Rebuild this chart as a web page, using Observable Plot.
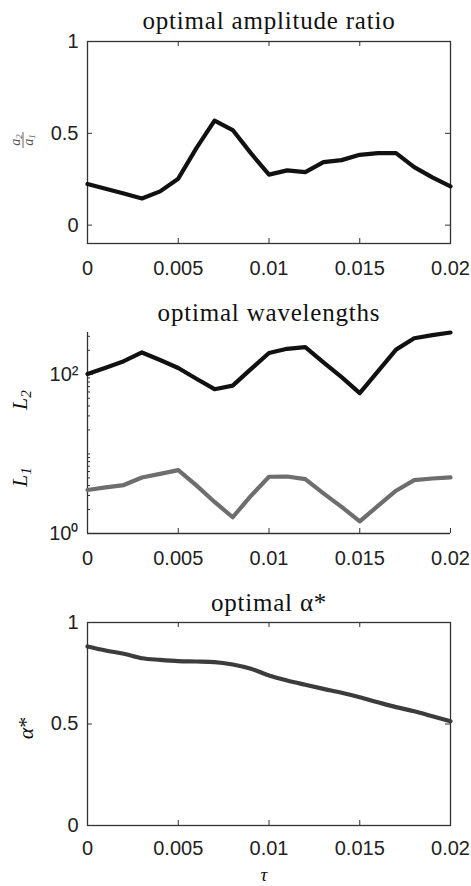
<!DOCTYPE html>
<html><head><meta charset="utf-8">
<script src="https://cdn.jsdelivr.net/npm/d3@7"></script>
<script src="https://cdn.jsdelivr.net/npm/@observablehq/plot@0.6"></script>
<style>
body{margin:0;background:#fff;}
#wrap{position:relative;width:471px;height:886px;overflow:hidden;}
#wrap svg{position:absolute;left:0;}
</style></head><body><div id="wrap"></div>
<script>
// ---- data ----
const tau = [0, 0.001, 0.002, 0.003, 0.004, 0.005, 0.006, 0.007, 0.008, 0.009, 0.010,
             0.011, 0.012, 0.013, 0.014, 0.015, 0.016, 0.017, 0.018, 0.019, 0.020];
const ratio = [0.224, 0.198, 0.172, 0.145, 0.184, 0.253, 0.419, 0.569, 0.518, 0.392, 0.275,
               0.298, 0.289, 0.343, 0.354, 0.383, 0.392, 0.392, 0.316, 0.260, 0.211];
const L2 = [101, 121, 146, 188, 151, 120, 88, 65, 72, 116, 185,
            209, 219, 141, 92, 58, 109, 204, 284, 310, 335];
const L1 = [3.52, 3.79, 4.06, 5.06, 5.62, 6.26, 4.02, 2.49, 1.60, 2.96, 5.16,
            5.20, 4.83, 3.19, 2.16, 1.42, 2.22, 3.45, 4.69, 4.91, 5.06];
const alpha = [0.882, 0.862, 0.846, 0.824, 0.816, 0.810, 0.808, 0.805, 0.793, 0.772, 0.739,
               0.714, 0.693, 0.673, 0.654, 0.632, 0.607, 0.583, 0.563, 0.538, 0.514];

const xTicks = [0, 0.005, 0.01, 0.015, 0.02];
const ratioTicks = [0, 0.5, 1];
const alphaTicks = [0, 0.5, 1];
const logTicks = [1, 100];
const logTickLabels = ["10\u2070", "10\u00B2"];
const logMinor = [2,3,4,5,6,7,8,9,10,20,30,40,50,60,70,80,90,200,300];
const titles = ["optimal amplitude ratio", "optimal wavelengths", "optimal \u03B1*"];

// ---- layout ----
const W = 471, ML = 87, MR = 21;
const plotW = W - ML - MR;
const sans = "'Liberation Sans', Arial, Helvetica, sans-serif";
const serif = "'Liberation Serif', 'DejaVu Serif', serif";
const ink = "#222";
const wrap = document.getElementById("wrap");

function rows(ys) { return tau.map((t, i) => ({tau: t, v: ys[i]})); }
const baseStyle = {fontFamily: sans, fontSize: "20px", color: ink, background: "transparent"};

function titleMark(t, dy) {
  return Plot.text([t], {text: d => d, frameAnchor: "top", dy, fontSize: 25, fontFamily: serif, lineAnchor: "middle", fill: "#111", style: "letter-spacing:0.8px"});
}
function spaceTitles(svg) {
  d3.select(svg).selectAll("text").filter(function() { return titles.includes(this.textContent); }).attr("letter-spacing", "0.8px");
}

// ---- panel 1 ----
{
  const H = 290, MT = 41, MB = 47, plotH = H - MT - MB;
  const svg = Plot.plot({
    width: W, height: H, marginLeft: ML, marginRight: MR, marginTop: MT, marginBottom: MB,
    style: baseStyle,
    x: {domain: [0, 0.02], ticks: xTicks, tickFormat: d => String(d), tickSize: 0, tickPadding: 17, label: null},
    y: {domain: [-0.1, 1], ticks: ratioTicks, tickFormat: d => String(d), tickSize: 0, tickPadding: 9, label: null},
    marks: [
      Plot.frame({stroke: "#333", strokeWidth: 1.3}),
      Plot.tickX(xTicks, {x: d => d, insetTop: plotH - 5, stroke: "#333"}),
      Plot.tickX(xTicks, {x: d => d, insetBottom: plotH - 5, stroke: "#333"}),
      Plot.tickY(ratioTicks, {y: d => d, insetRight: plotW - 5, stroke: "#333"}),
      Plot.tickY(ratioTicks, {y: d => d, insetLeft: plotW - 5, stroke: "#333"}),
      Plot.line(rows(ratio), {x: "tau", y: "v", stroke: "#111", strokeWidth: 4.2}),
      titleMark(titles[0], -21)
    ]
  });
  svg.style.top = "0px";
  wrap.appendChild(svg);
  spaceTitles(svg);
  const g = d3.select(svg).append("g").attr("transform", "translate(23,140) rotate(-90)")
    .attr("font-family", serif).attr("font-style", "italic").attr("font-size", 14).attr("fill", "#555").attr("text-anchor", "middle");
  g.append("text").attr("y", -3).text("a").append("tspan").attr("font-size", 9).attr("dy", 2).text("2");
  g.append("line").attr("x1", -8).attr("x2", 8).attr("y1", 0).attr("y2", 0).attr("stroke", "#555").attr("stroke-width", 0.9);
  g.append("text").attr("y", 10).text("a").append("tspan").attr("font-size", 9).attr("dy", 2).text("1");
}

// ---- panel 2 ----
{
  const H = 300, MT = 42, MB = 57, plotH = H - MT - MB;
  const lm = new Map(logTicks.map((d, i) => [d, logTickLabels[i]]));
  const svg = Plot.plot({
    width: W, height: H, marginLeft: ML, marginRight: MR, marginTop: MT, marginBottom: MB,
    style: baseStyle,
    x: {domain: [0, 0.02], ticks: xTicks, tickFormat: d => String(d), tickSize: 0, tickPadding: 17, label: null},
    y: {type: "log", domain: [1, 335], ticks: logTicks, tickFormat: d => lm.get(d), tickSize: 0, tickPadding: 9, label: null},
    marks: [
      Plot.ruleX([0], {stroke: "#333", strokeWidth: 1.3}),
      Plot.ruleY([1], {stroke: "#333", strokeWidth: 1.3}),
      Plot.tickX(xTicks, {x: d => d, insetTop: plotH - 5, stroke: "#333"}),
      Plot.tickY(logTicks, {y: d => d, insetRight: plotW - 6, stroke: "#333"}),
      Plot.tickY(logMinor, {y: d => d, insetRight: plotW - 3, stroke: "#333"}),
      Plot.line(rows(L2), {x: "tau", y: "v", stroke: "#111", strokeWidth: 4.2}),
      Plot.line(rows(L1), {x: "tau", y: "v", stroke: "#6e6e6e", strokeWidth: 4.2}),
      titleMark(titles[1], -20)
    ]
  });
  svg.style.top = "290px";
  wrap.appendChild(svg);
  spaceTitles(svg);
  const addL = (cy, sub) => {
    const t = d3.select(svg).append("text").attr("transform", `translate(27,${cy}) rotate(-90)`)
      .attr("font-family", serif).attr("font-style", "italic").attr("font-size", 22).attr("fill", "#111").attr("text-anchor", "middle");
    t.text("L").append("tspan").attr("font-size", 15).attr("dy", 4).text(sub);
  };
  addL(110, "2");
  addL(187, "1");
}

// ---- panel 3 ----
{
  const H = 296, MT = 32, MB = 61, plotH = H - MT - MB;
  const svg = Plot.plot({
    width: W, height: H, marginLeft: ML, marginRight: MR, marginTop: MT, marginBottom: MB,
    style: baseStyle,
    x: {domain: [0, 0.02], ticks: xTicks, tickFormat: d => String(d), tickSize: 0, tickPadding: 15, label: null},
    y: {domain: [0, 1], ticks: alphaTicks, tickFormat: d => String(d), tickSize: 0, tickPadding: 9, label: null},
    marks: [
      Plot.frame({stroke: "#333", strokeWidth: 1.3}),
      Plot.tickX(xTicks, {x: d => d, insetTop: plotH - 5, stroke: "#333"}),
      Plot.tickX(xTicks, {x: d => d, insetBottom: plotH - 5, stroke: "#333"}),
      Plot.tickY(alphaTicks, {y: d => d, insetRight: plotW - 5, stroke: "#333"}),
      Plot.tickY(alphaTicks, {y: d => d, insetLeft: plotW - 5, stroke: "#333"}),
      Plot.line(rows(alpha), {x: "tau", y: "v", stroke: "#3c3c3c", strokeWidth: 4.2, curve: "monotone-x"}),
      titleMark(titles[2], -20),
      Plot.text(["\u03C4"], {text: d => d, frameAnchor: "bottom", dy: 49, dx: -5, fontSize: 19, fontFamily: serif, fontStyle: "italic", lineAnchor: "middle", fill: "#111"})
    ]
  });
  svg.style.top = "590px";
  wrap.appendChild(svg);
  spaceTitles(svg);
  const t = d3.select(svg).append("text").attr("transform", "translate(33,138) rotate(-90)")
    .attr("font-family", serif).attr("font-size", 22).attr("fill", "#111").attr("text-anchor", "middle");
  t.append("tspan").attr("font-style", "italic").text("\u03B1");
  t.append("tspan").text("*");
}
</script></body></html>
